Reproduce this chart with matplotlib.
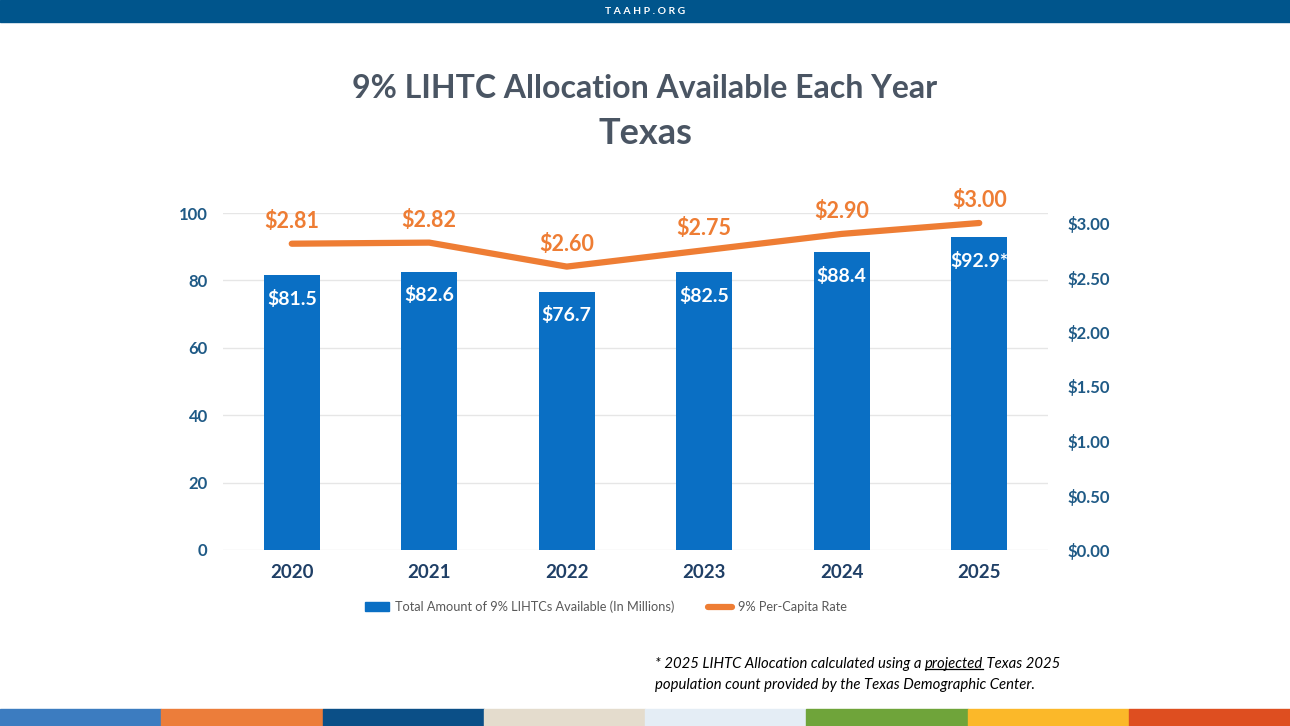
import matplotlib
matplotlib.use("Agg")
import matplotlib.pyplot as plt
from matplotlib.patches import Rectangle
from matplotlib.lines import Line2D

years = ["2020", "2021", "2022", "2023", "2024", "2025"]
totals = [81.5, 82.6, 76.7, 82.5, 88.4, 92.9]
total_labels = ["$81.5", "$82.6", "$76.7", "$82.5", "$88.4", "$92.9*"]
per_capita = [2.81, 2.82, 2.60, 2.75, 2.90, 3.00]
left_ticks = [0, 20, 40, 60, 80, 100]
right_ticks = [0, 0.5, 1.0, 1.5, 2.0, 2.5, 3.0]
stripe_colors = ["#3C7CC0", "#EC7D3A", "#0B4F87", "#E4DCCD", "#E4EDF5", "#6FA43A", "#FBB829", "#DE4E20"]

BAR = "#0A6FC4"
ORANGE = "#EE7D34"
TICK = "#1F5A86"
TITLE = "#4A5563"

plt.rcParams['font.family'] = ['Lato', 'DejaVu Sans']

W, H = 1290, 726
fig = plt.figure(figsize=(W / 100, H / 100), dpi=100)
fig.patch.set_facecolor("white")

# top banner
fig.add_artist(Rectangle((0, 1 - 22 / H), 1, 22 / H, transform=fig.transFigure,
                         color="#00558C", zorder=0))
fig.text(0.5, 1 - 11 / H, "T A A H P . O R G", color="white", fontsize=7.5,
         fontweight="bold", ha="center", va="center")

# bottom stripes
n = len(stripe_colors)
for i, c in enumerate(stripe_colors):
    fig.add_artist(Rectangle((i / n, 0), 1 / n, 17 / H, transform=fig.transFigure,
                             color=c, zorder=0))

# titles
fig.text(0.5, 1 - 88 / H, "9% LIHTC Allocation Available Each Year", color=TITLE,
         fontsize=23, fontweight="bold", ha="center", va="center")
fig.text(0.5, 1 - 133 / H, "Texas", color=TITLE, fontsize=26,
         fontweight="bold", ha="center", va="center")

x0, x1 = 223, 1048
y0, y1 = 550, 213
ax = fig.add_axes([x0 / W, 1 - y0 / H, (x1 - x0) / W, (y0 - y1) / H])
x = list(range(len(years)))
bars = ax.bar(x, totals, width=0.41, color=BAR, zorder=2)
ax.set_xlim(-0.5, len(years) - 0.5)
ax.set_ylim(0, 100)
ax.set_yticks(left_ticks)
ax.set_yticklabels([str(t) for t in left_ticks])
ax.set_xticks(x)
ax.set_xticklabels(years)
ax.grid(axis="y", color="#E6E6E6", linewidth=1, zorder=0)
for s in ax.spines.values():
    s.set_visible(False)
ax.tick_params(axis="y", length=0, pad=11, labelsize=12, labelcolor=TICK)
ax.tick_params(axis="x", length=0, pad=10, labelsize=13.5, labelcolor="#1F3F66")
for lab in ax.get_yticklabels() + ax.get_xticklabels():
    lab.set_fontweight("bold")

for xi, v, lab in zip(x, totals, total_labels):
    ax.annotate(lab, (xi, v), xytext=(0, -17), textcoords="offset points",
                ha="center", va="center", color="white", fontsize=14,
                fontweight="bold", zorder=4)

ax2 = ax.twinx()
ax2.set_ylim(0, 3.0 * (y0 - y1) / (550 - 223))
ax2.plot(x, per_capita, color=ORANGE, linewidth=4.5, solid_capstyle="round", zorder=3)
ax2.set_yticks(right_ticks)
ax2.set_yticklabels([f"${t:.2f}" for t in right_ticks])
for s in ax2.spines.values():
    s.set_visible(False)
ax2.tick_params(axis="y", length=0, pad=14, labelsize=12, labelcolor=TICK)
for lab in ax2.get_yticklabels():
    lab.set_fontweight("bold")
for xi, v in zip(x, per_capita):
    ax2.annotate(f"${v:.2f}", (xi, v), xytext=(0, 16), textcoords="offset points",
                 ha="center", va="center", color=ORANGE, fontsize=15.5,
                 fontweight="bold")

# legend
handles = [Rectangle((0, 0), 1, 1, color=BAR),
           Line2D([0], [0], color=ORANGE, linewidth=4.5, solid_capstyle="round")]
fig.legend(handles, ["Total Amount of 9% LIHTCs Available (In Millions)", "9% Per-Capita Rate"],
           loc="center", bbox_to_anchor=(0.4695, 1 - 607 / H), ncol=2, frameon=False,
           labelcolor="#595959", handlelength=1.9, handleheight=0.75,
           columnspacing=2.6, handletextpad=0.45,
           prop={"family": ["Lato", "DejaVu Sans"], "size": 9.2})

# footnote with underlined word
fig.canvas.draw()
r = fig.canvas.get_renderer()
fp = dict(fontsize=10.7, style="italic", color="black", family=["Lato", "DejaVu Sans"])
fx, fy = 655 / W, 1 - 664 / H
t1 = fig.text(fx, fy, "* 2025 LIHTC Allocation calculated using a ", va="center", ha="left", **fp)
bb = t1.get_window_extent(r)
t2 = fig.text(bb.x1 / W, fy, "projected", va="center", ha="left", **fp)
bb2 = t2.get_window_extent(r)
t3 = fig.text(bb2.x1 / W, fy, " Texas 2025", va="center", ha="left", **fp)
fig.add_artist(Line2D([bb2.x0 / W, bb2.x1 / W], [(bb2.y0 + 2) / H, (bb2.y0 + 2) / H],
                      transform=fig.transFigure, color="black", linewidth=0.9))
fig.text(fx, 1 - 685 / H, "population count provided by the Texas Demographic Center.",
         va="center", ha="left", **fp)

fig.savefig("out.png", dpi=100, facecolor="white")
